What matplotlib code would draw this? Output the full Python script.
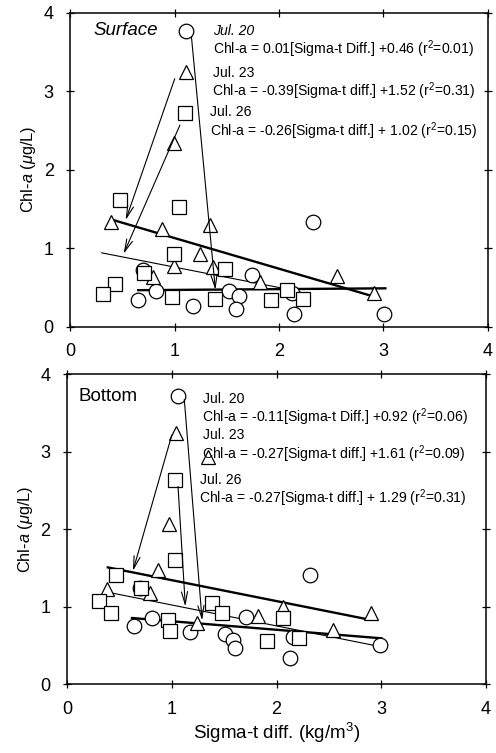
import matplotlib
matplotlib.use("Agg")
import matplotlib.pyplot as plt
import numpy as np

plt.rcParams["font.family"] = ["Liberation Sans", "DejaVu Sans"]
plt.rcParams["mathtext.fontset"] = "custom"
plt.rcParams["mathtext.rm"] = "Liberation Sans"
plt.rcParams["mathtext.it"] = "Liberation Sans:italic"

# ---- surface panel data (sigma-t diff, chl-a) ----
surf_jul20_x = [1.11, 0.70, 0.82, 0.65, 1.18, 1.52, 1.62, 1.59, 1.74, 2.33, 2.14, 3.01, 2.12]
surf_jul20_y = [3.77, 0.72, 0.45, 0.34, 0.27, 0.46, 0.39, 0.23, 0.66, 1.34, 0.16, 0.16, 0.43]
surf_jul23_x = [1.11, 0.99, 0.39, 0.88, 1.34, 1.24, 0.99, 1.37, 0.79, 1.82, 2.56, 2.91]
surf_jul23_y = [3.25, 2.34, 1.34, 1.25, 1.30, 0.93, 0.77, 0.76, 0.64, 0.57, 0.65, 0.43]
surf_jul26_x = [1.10, 0.48, 1.04, 0.99, 1.48, 0.71, 0.43, 0.31, 0.97, 1.39, 1.92, 2.08, 2.23]
surf_jul26_y = [2.72, 1.61, 1.53, 0.93, 0.74, 0.68, 0.55, 0.42, 0.38, 0.36, 0.34, 0.47, 0.35]

# ---- bottom panel data ----
bot_jul20_x = [1.06, 0.70, 0.64, 0.81, 1.17, 1.51, 1.58, 1.60, 1.71, 2.32, 2.13, 2.16, 2.99]
bot_jul20_y = [3.72, 1.24, 0.75, 0.85, 0.67, 0.65, 0.57, 0.47, 0.87, 1.41, 0.33, 0.61, 0.50]
bot_jul23_x = [1.04, 1.35, 0.97, 0.87, 0.38, 0.79, 1.24, 1.82, 2.06, 2.54, 2.90]
bot_jul23_y = [3.24, 2.93, 2.06, 1.47, 1.22, 1.17, 0.79, 0.88, 0.99, 0.70, 0.91]
bot_jul26_x = [1.03, 1.03, 0.47, 0.71, 0.31, 0.42, 0.96, 0.98, 1.38, 1.48, 2.06, 1.91, 2.21]
bot_jul26_y = [2.63, 1.60, 1.41, 1.24, 1.07, 0.91, 0.82, 0.69, 1.04, 0.92, 0.85, 0.55, 0.60]

# regression fits: slope, intercept, x-range
surf_fits = [(0.01, 0.46, 0.65, 3.02), (-0.39, 1.52, 0.40, 2.90), (-0.26, 1.02, 0.30, 2.20)]
bot_fits = [(-0.11, 0.92, 0.62, 3.00), (-0.27, 1.61, 0.39, 2.89), (-0.27, 1.29, 0.41, 2.95)]
fit_widths = [1.7, 1.7, 0.8]

surf_labels = ["Jul. 20", "Chl-a = 0.01[Sigma-t Diff.] +0.46 (r$^2$=0.01)",
               "Jul. 23", "Chl-a = -0.39[Sigma-t diff.] +1.52 (r$^2$=0.31)",
               "Jul. 26", "Chl-a = -0.26[Sigma-t diff.] + 1.02 (r$^2$=0.15)"]
bot_labels = ["Jul. 20", "Chl-a = -0.11[Sigma-t Diff.] +0.92 (r$^2$=0.06)",
              "Jul. 23", "Chl-a = -0.27[Sigma-t diff.] +1.61 (r$^2$=0.09)",
              "Jul. 26", "Chl-a = -0.27[Sigma-t diff.] + 1.29 (r$^2$=0.31)"]

# arrows from peak markers to the fitted lines
surf_arrows = [((1.16, 3.70), (1.39, 0.47)), ((1.00, 3.16), (0.53, 1.36)), ((1.05, 2.57), (0.51, 0.93))]
bot_arrows = [((1.12, 3.67), (1.29, 0.82)), ((1.00, 3.21), (0.63, 1.46)), ((1.06, 2.55), (1.13, 1.00))]


def panel(ax, d20, d23, d26, fits, arrows, title, title_style, labels, lab_x, lab_y, jul20_style):
    for (slope, icpt, x0, x1), lw in zip(fits, fit_widths):
        xs = np.array([x0, x1])
        ax.plot(xs, slope * xs + icpt, color="black", lw=lw, zorder=2)
    mk = dict(mfc="white", mec="black", mew=0.9, ls="none", zorder=3)
    ax.plot(*d20, marker="o", ms=10.5, **mk)
    ax.plot(*d23, marker="^", ms=10.5, **mk)
    ax.plot(*d26, marker="s", ms=9.5, **mk)
    for start, end in arrows:
        ax.annotate("", xy=end, xytext=start, zorder=4,
                    arrowprops=dict(arrowstyle="->,head_length=0.9,head_width=0.22",
                                    lw=0.8, color="black", shrinkA=0, shrinkB=0))
    ax.text(title[0], title[1], title[2], fontsize=13.5, style=title_style, va="center", ha="left")
    for i, (txt, x, y) in enumerate(zip(labels, lab_x, lab_y)):
        st = jul20_style if i == 0 else "normal"
        ax.text(x, y, txt, fontsize=10.1, style=st, va="center", ha="left", zorder=5)
    ax.set_xlim(0, 4)
    ax.set_ylim(0, 4)
    ax.set_xticks([0, 1, 2, 3, 4])
    ax.set_yticks([0, 1, 2, 3, 4])
    ax.tick_params(direction="inout", length=6, width=0.9, top=True, right=True,
                   labelsize=13, pad=9)
    for s in ax.spines.values():
        s.set_linewidth(1.1)
    ax.set_ylabel("Chl-$\\it{a}$ ($\\mu$g/L)", fontsize=11.8, labelpad=4)


fig = plt.figure(figsize=(4.96, 7.53), dpi=100)
ax1 = fig.add_axes([0.142, 0.566, 0.841, 0.417])
ax2 = fig.add_axes([0.135, 0.0916, 0.845, 0.4117])

panel(ax1, (surf_jul20_x, surf_jul20_y), (surf_jul23_x, surf_jul23_y), (surf_jul26_x, surf_jul26_y),
      surf_fits, surf_arrows, (0.22, 3.78, "Surface"), "italic", surf_labels,
      [1.37, 1.37, 1.37, 1.36, 1.34, 1.34], [3.77, 3.53, 3.23, 3.00, 2.73, 2.49], "italic")
panel(ax2, (bot_jul20_x, bot_jul20_y), (bot_jul23_x, bot_jul23_y), (bot_jul26_x, bot_jul26_y),
      bot_fits, bot_arrows, (0.11, 3.71, "Bottom"), "normal", bot_labels,
      [1.30, 1.29, 1.30, 1.29, 1.27, 1.26], [3.68, 3.44, 3.21, 2.97, 2.63, 2.40], "normal")
ax2.set_xlabel("Sigma-t diff. (kg/m$^3$)", fontsize=13.5, labelpad=2)

fig.savefig("out.png", dpi=100)
